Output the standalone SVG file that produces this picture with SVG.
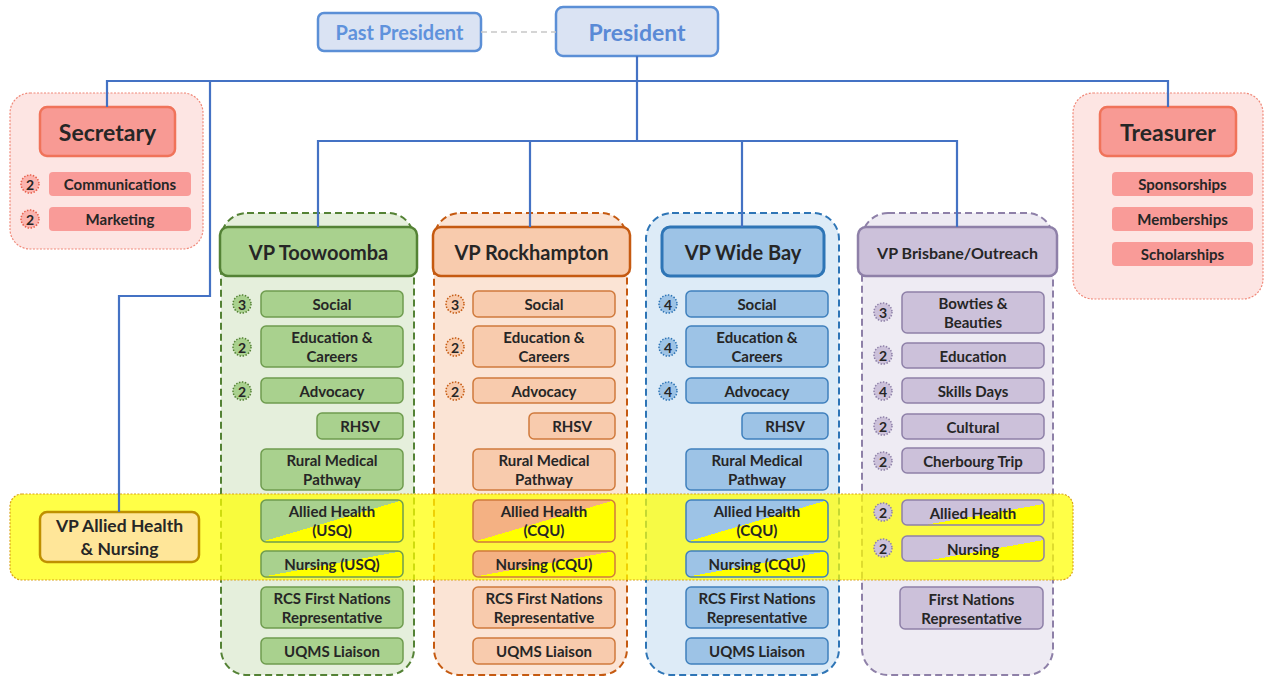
<svg xmlns="http://www.w3.org/2000/svg" width="1264" height="677" viewBox="0 0 1264 677">
<defs>
<style>
text{font-family:Lato,"Liberation Sans",sans-serif;font-weight:700;fill:#262626;text-anchor:middle;dominant-baseline:central}
.it{font-size:15px}
.bd{font-size:14px}
.hd{font-size:20px}
.conn{fill:none;stroke:#4472c4;stroke-width:2.2}
.og{fill:#e5efdc;stroke:#548235;stroke-width:2;stroke-dasharray:7 4}
.oo{fill:#fbe4d5;stroke:#c55a11;stroke-width:2;stroke-dasharray:7 4}
.ob{fill:#ddebf7;stroke:#2e75b6;stroke-width:2;stroke-dasharray:7 4}
.op{fill:#eeebf3;stroke:#8e80a8;stroke-width:2;stroke-dasharray:7 4}
.hg{fill:#a9d18e;stroke:#548235;stroke-width:2.5}
.ho{fill:#f8cbad;stroke:#c55a11;stroke-width:2.5}
.hb{fill:#9dc3e6;stroke:#2e75b6;stroke-width:3}
.hp{fill:#ccc1da;stroke:#8e80a8;stroke-width:2.5}
.ig{fill:#a9d18e;stroke:#6f9c4f;stroke-width:1.5}
.io{fill:#f8cbad;stroke:#d07a3c;stroke-width:1.5}
.ib{fill:#9dc3e6;stroke:#3f80bd;stroke-width:1.5}
.ip{fill:#ccc1da;stroke:#8e80a8;stroke-width:1.5}
.bg{fill:#a9d18e;stroke:#548235;stroke-width:1.5;stroke-dasharray:1.5 1.5}
.bo{fill:#f8cbad;stroke:#c55a11;stroke-width:1.5;stroke-dasharray:1.5 1.5}
.bb{fill:#9dc3e6;stroke:#2e75b6;stroke-width:1.5;stroke-dasharray:1.5 1.5}
.bp{fill:#ccc1da;stroke:#8e80a8;stroke-width:1.5;stroke-dasharray:1.5 1.5}
.br{fill:#fbb3ad;stroke:#e8604c;stroke-width:1.5;stroke-dasharray:1.5 1.5}
.pk{fill:#f99b98}
</style>
<linearGradient id="sg" x1="0" y1="0" x2="1" y2="1"><stop offset="0.5" stop-color="#a9d18e"/><stop offset="0.5" stop-color="#ffff00"/></linearGradient>
<linearGradient id="so" x1="0" y1="0" x2="1" y2="1"><stop offset="0.5" stop-color="#f4b183"/><stop offset="0.5" stop-color="#ffff00"/></linearGradient>
<linearGradient id="sb" x1="0" y1="0" x2="1" y2="1"><stop offset="0.5" stop-color="#9dc3e6"/><stop offset="0.5" stop-color="#ffff00"/></linearGradient>
<linearGradient id="sp" x1="0" y1="0" x2="1" y2="1"><stop offset="0.58" stop-color="#ccc1da"/><stop offset="0.58" stop-color="#ffff00"/></linearGradient>
</defs>

<g id="past-president">
<rect x="318" y="13" width="163" height="38" rx="6" fill="#dae3f3" stroke="#5b8fd6" stroke-width="2.5"/>
<text x="399.5" y="32" style="font-size:20px;fill:#5f92dc">Past President</text>
</g>
<g id="president">
<rect x="556" y="7" width="162" height="49" rx="7" fill="#dae3f3" stroke="#5b8fd6" stroke-width="2.5"/>
<text x="637" y="32" style="font-size:23px;fill:#5a8ad6">President</text>
</g>

<g id="secretary">
<rect x="10" y="93" width="193" height="156" rx="20" fill="#fde5e3" stroke="#f08878" stroke-width="1.2" stroke-dasharray="2 1.5"/>
<rect x="40" y="107" width="135" height="49" rx="7" fill="#f89a94" stroke="#f0735a" stroke-width="2.5"/>
<text x="107.5" y="132" style="font-size:23px">Secretary</text>
<rect class="pk" x="49" y="172" width="142" height="24" rx="4"/>
<text class="it" x="120" y="184">Communications</text>
<rect class="pk" x="49" y="207" width="142" height="24" rx="4"/>
<text class="it" x="120" y="219">Marketing</text>
<circle class="br" cx="30" cy="184" r="9"/><text class="bd" x="30" y="184">2</text>
<circle class="br" cx="30" cy="219" r="9"/><text class="bd" x="30" y="219">2</text>
</g>

<g id="treasurer">
<rect x="1073" y="93" width="190" height="206" rx="20" fill="#fde5e3" stroke="#f08878" stroke-width="1.2" stroke-dasharray="2 1.5"/>
<rect x="1100" y="107" width="136" height="49" rx="7" fill="#f89a94" stroke="#f0735a" stroke-width="2.5"/>
<text x="1168" y="132" style="font-size:23px">Treasurer</text>
<rect class="pk" x="1112" y="172" width="141" height="24" rx="4"/>
<text class="it" x="1182.5" y="184">Sponsorships</text>
<rect class="pk" x="1112" y="207" width="141" height="24" rx="4"/>
<text class="it" x="1182.5" y="219">Memberships</text>
<rect class="pk" x="1112" y="242" width="141" height="24" rx="4"/>
<text class="it" x="1182.5" y="254">Scholarships</text>
</g>

<g id="column-backgrounds">
<rect class="og" x="221" y="213" width="193" height="462" rx="26"/>
<rect class="oo" x="434" y="213" width="193" height="462" rx="26"/>
<rect class="ob" x="646" y="213" width="193" height="462" rx="26"/>
<rect class="op" x="862" y="213" width="191" height="462" rx="26"/>
</g>

<g id="allied-band">
<rect x="10" y="494" width="1063" height="86" rx="12" fill="#ffff00" fill-opacity="0.72" stroke="#d9a21a" stroke-width="1.2" stroke-dasharray="2 1.5"/>
</g>

<g id="vp-allied-health-nursing">
<rect x="40" y="512" width="159" height="50" rx="7" fill="#ffe699" stroke="#bf9000" stroke-width="2.5"/>
<text x="119.5" y="525" style="font-size:17.5px">VP Allied Health</text>
<text x="119.5" y="548" style="font-size:17.5px">&amp; Nursing</text>
</g>

<g id="vp-toowoomba">
<rect class="hg" x="220" y="227" width="197" height="49" rx="8"/>
<text class="hd" x="318.5" y="252">VP Toowoomba</text>
<rect class="ig" x="261" y="291" width="142" height="26" rx="5"/><text class="it" x="332" y="304">Social</text>
<rect class="ig" x="261" y="326" width="142" height="41" rx="5"/><text class="it" x="332" y="337">Education &amp;</text><text class="it" x="332" y="356">Careers</text>
<rect class="ig" x="261" y="378" width="142" height="25" rx="5"/><text class="it" x="332" y="390.5">Advocacy</text>
<rect class="ig" x="317" y="413" width="86" height="26" rx="5"/><text class="it" x="360" y="426">RHSV</text>
<rect class="ig" x="261" y="449" width="142" height="41" rx="5"/><text class="it" x="332" y="460">Rural Medical</text><text class="it" x="332" y="479">Pathway</text>
<rect x="261" y="500" width="142" height="42" rx="5" fill="url(#sg)" stroke="#6f9c4f" stroke-width="1.5"/><text class="it" x="332" y="511">Allied Health</text><text class="it" x="332" y="530">(USQ)</text>
<rect x="261" y="551" width="142" height="26" rx="5" fill="url(#sg)" stroke="#6f9c4f" stroke-width="1.5"/><text class="it" x="332" y="564">Nursing (USQ)</text>
<rect class="ig" x="261" y="587" width="142" height="41" rx="5"/><text class="it" x="332" y="598">RCS First Nations</text><text class="it" x="332" y="617">Representative</text>
<rect class="ig" x="261" y="638" width="142" height="26" rx="5"/><text class="it" x="332" y="651">UQMS Liaison</text>
<circle class="bg" cx="242" cy="304" r="9"/><text class="bd" x="242" y="304">3</text>
<circle class="bg" cx="242" cy="347" r="9"/><text class="bd" x="242" y="347">2</text>
<circle class="bg" cx="242" cy="391" r="9"/><text class="bd" x="242" y="391">2</text>
</g>

<g id="vp-rockhampton">
<rect class="ho" x="433" y="227" width="197" height="49" rx="8"/>
<text class="hd" x="531.5" y="252">VP Rockhampton</text>
<rect class="io" x="473" y="291" width="142" height="26" rx="5"/><text class="it" x="544" y="304">Social</text>
<rect class="io" x="473" y="326" width="142" height="41" rx="5"/><text class="it" x="544" y="337">Education &amp;</text><text class="it" x="544" y="356">Careers</text>
<rect class="io" x="473" y="378" width="142" height="25" rx="5"/><text class="it" x="544" y="390.5">Advocacy</text>
<rect class="io" x="529" y="413" width="86" height="26" rx="5"/><text class="it" x="572" y="426">RHSV</text>
<rect class="io" x="473" y="449" width="142" height="41" rx="5"/><text class="it" x="544" y="460">Rural Medical</text><text class="it" x="544" y="479">Pathway</text>
<rect x="473" y="500" width="142" height="42" rx="5" fill="url(#so)" stroke="#d07a3c" stroke-width="1.5"/><text class="it" x="544" y="511">Allied Health</text><text class="it" x="544" y="530">(CQU)</text>
<rect x="473" y="551" width="142" height="26" rx="5" fill="url(#so)" stroke="#d07a3c" stroke-width="1.5"/><text class="it" x="544" y="564">Nursing (CQU)</text>
<rect class="io" x="473" y="587" width="142" height="41" rx="5"/><text class="it" x="544" y="598">RCS First Nations</text><text class="it" x="544" y="617">Representative</text>
<rect class="io" x="473" y="638" width="142" height="26" rx="5"/><text class="it" x="544" y="651">UQMS Liaison</text>
<circle class="bo" cx="455" cy="304" r="9"/><text class="bd" x="455" y="304">3</text>
<circle class="bo" cx="455" cy="347" r="9"/><text class="bd" x="455" y="347">2</text>
<circle class="bo" cx="455" cy="391" r="9"/><text class="bd" x="455" y="391">2</text>
</g>

<g id="vp-wide-bay">
<rect class="hb" x="662" y="227" width="162" height="49" rx="8"/>
<text class="hd" x="743" y="252">VP Wide Bay</text>
<rect class="ib" x="686" y="291" width="142" height="26" rx="5"/><text class="it" x="757" y="304">Social</text>
<rect class="ib" x="686" y="326" width="142" height="41" rx="5"/><text class="it" x="757" y="337">Education &amp;</text><text class="it" x="757" y="356">Careers</text>
<rect class="ib" x="686" y="378" width="142" height="25" rx="5"/><text class="it" x="757" y="390.5">Advocacy</text>
<rect class="ib" x="742" y="413" width="86" height="26" rx="5"/><text class="it" x="785" y="426">RHSV</text>
<rect class="ib" x="686" y="449" width="142" height="41" rx="5"/><text class="it" x="757" y="460">Rural Medical</text><text class="it" x="757" y="479">Pathway</text>
<rect x="686" y="500" width="142" height="42" rx="5" fill="url(#sb)" stroke="#3f80bd" stroke-width="1.5"/><text class="it" x="757" y="511">Allied Health</text><text class="it" x="757" y="530">(CQU)</text>
<rect x="686" y="551" width="142" height="26" rx="5" fill="url(#sb)" stroke="#3f80bd" stroke-width="1.5"/><text class="it" x="757" y="564">Nursing (CQU)</text>
<rect class="ib" x="686" y="587" width="142" height="41" rx="5"/><text class="it" x="757" y="598">RCS First Nations</text><text class="it" x="757" y="617">Representative</text>
<rect class="ib" x="686" y="638" width="142" height="26" rx="5"/><text class="it" x="757" y="651">UQMS Liaison</text>
<circle class="bb" cx="668" cy="304" r="9"/><text class="bd" x="668" y="304">4</text>
<circle class="bb" cx="668" cy="347" r="9"/><text class="bd" x="668" y="347">4</text>
<circle class="bb" cx="668" cy="391" r="9"/><text class="bd" x="668" y="391">4</text>
</g>

<g id="vp-brisbane-outreach">
<rect class="hp" x="858" y="227" width="199" height="49" rx="8"/>
<text x="957.5" y="252" style="font-size:16px">VP Brisbane/Outreach</text>
<rect class="ip" x="902" y="292" width="142" height="41" rx="5"/><text class="it" x="973" y="303">Bowties &amp;</text><text class="it" x="973" y="322">Beauties</text>
<rect class="ip" x="902" y="343" width="142" height="25" rx="5"/><text class="it" x="973" y="355.5">Education</text>
<rect class="ip" x="902" y="378" width="142" height="25" rx="5"/><text class="it" x="973" y="390.5">Skills Days</text>
<rect class="ip" x="902" y="414" width="142" height="25" rx="5"/><text class="it" x="973" y="426.5">Cultural</text>
<rect class="ip" x="902" y="448" width="142" height="25" rx="5"/><text class="it" x="973" y="460.5">Cherbourg Trip</text>
<rect x="902" y="500" width="142" height="25" rx="5" fill="url(#sp)" stroke="#8e80a8" stroke-width="1.5"/><text class="it" x="973" y="512.5">Allied Health</text>
<rect x="902" y="536" width="142" height="25" rx="5" fill="url(#sp)" stroke="#8e80a8" stroke-width="1.5"/><text class="it" x="973" y="548.5">Nursing</text>
<rect class="ip" x="900" y="587" width="143" height="42" rx="5"/><text class="it" x="971.5" y="598.5">First Nations</text><text class="it" x="971.5" y="617.5">Representative</text>
<circle class="bp" cx="883" cy="312" r="9"/><text class="bd" x="883" y="312">3</text>
<circle class="bp" cx="883" cy="355" r="9"/><text class="bd" x="883" y="355">2</text>
<circle class="bp" cx="883" cy="391" r="9"/><text class="bd" x="883" y="391">4</text>
<circle class="bp" cx="883" cy="426" r="9"/><text class="bd" x="883" y="426">2</text>
<circle class="bp" cx="883" cy="461" r="9"/><text class="bd" x="883" y="461">2</text>
<circle class="bp" cx="883" cy="512" r="9"/><text class="bd" x="883" y="512">2</text>
<circle class="bp" cx="883" cy="548" r="9"/><text class="bd" x="883" y="548">2</text>
</g>

<g id="connectors">
<path d="M481 32 H556" fill="none" stroke="#c8c8c8" stroke-width="1.5" stroke-dasharray="6 4"/>
<path class="conn" d="M637 56 V141"/>
<path class="conn" d="M107 107 V81 H1168 V107"/>
<path class="conn" d="M318 227 V141 H957 V227"/>
<path class="conn" d="M530 141 V227"/>
<path class="conn" d="M742 141 V227"/>
<path class="conn" d="M210 81 V296 H119 V512"/>
</g>
</svg>
